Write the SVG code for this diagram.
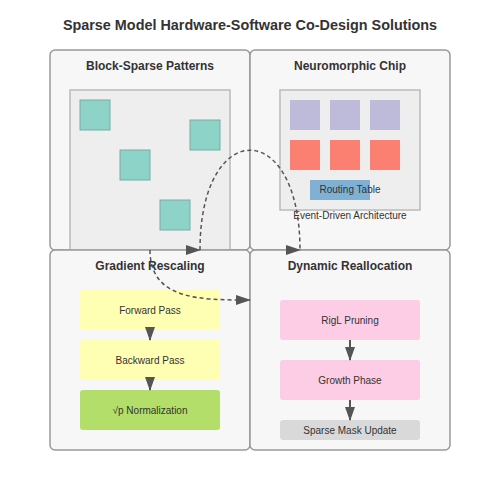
<svg xmlns="http://www.w3.org/2000/svg" width="500" height="500" viewBox="0 0 500 500">
<defs>
<style>
.panel{fill:#f7f7f7;stroke:#999;stroke-width:1.5}
.ptitle{font-family:"Liberation Sans",Arial,sans-serif;font-size:12px;font-weight:bold;fill:#333;text-anchor:middle}
.lbl{font-family:"Liberation Sans",Arial,sans-serif;font-size:10px;fill:#333;text-anchor:middle}
.inner{fill:#eee;stroke:#bbb;stroke-width:1.5}
.blk{fill:#8dd3c7;stroke:#7aaba2;stroke-width:1}
.pur{fill:#bebada}
.red{fill:#fb8072}
.dash{fill:none;stroke:#555;stroke-width:1.5;stroke-dasharray:4,3}
.solid{fill:none;stroke:#555;stroke-width:2}
</style>
<marker id="ar" markerUnits="userSpaceOnUse" markerWidth="15" markerHeight="10" refX="14" refY="5" orient="0">
<path d="M0,0 L15,5 L0,10 z" fill="#555"/>
</marker>
<marker id="ad" markerUnits="userSpaceOnUse" markerWidth="10" markerHeight="14" refX="5" refY="13" orient="0">
<path d="M0,0 L10,0 L5,14 z" fill="#555"/>
</marker>
</defs>
<rect width="500" height="500" fill="#fff"/>
<text x="250" y="30" font-family="'Liberation Sans',Arial,sans-serif" font-size="14.4" font-weight="bold" fill="#333" text-anchor="middle">Sparse Model Hardware-Software Co-Design Solutions</text>

<g id="block-sparse">
<rect class="panel" x="50" y="50" width="200" height="200" rx="5"/>
<text class="ptitle" x="150" y="70">Block-Sparse Patterns</text>
<rect class="inner" x="70" y="90" width="160" height="160"/>
<rect class="blk" x="80" y="100" width="30" height="30"/>
<rect class="blk" x="190" y="120" width="30" height="30"/>
<rect class="blk" x="120" y="150" width="30" height="30"/>
<rect class="blk" x="160" y="200" width="30" height="30"/>
</g>

<g id="neuromorphic">
<rect class="panel" x="250" y="50" width="200" height="200" rx="5"/>
<text class="ptitle" x="350" y="70">Neuromorphic Chip</text>
<rect class="inner" x="280" y="90" width="140" height="120"/>
<rect class="pur" x="290" y="100" width="30" height="30"/>
<rect class="pur" x="330" y="100" width="30" height="30"/>
<rect class="pur" x="370" y="100" width="30" height="30"/>
<rect class="red" x="290" y="140" width="30" height="30"/>
<rect class="red" x="330" y="140" width="30" height="30"/>
<rect class="red" x="370" y="140" width="30" height="30"/>
<rect x="310" y="180" width="60" height="20" fill="#80b1d3"/>
<text class="lbl" x="350" y="193">Routing Table</text>
<text class="lbl" x="350" y="219">Event-Driven Architecture</text>
</g>

<g id="gradient">
<rect class="panel" x="50" y="250" width="200" height="200" rx="5"/>
<text class="ptitle" x="150" y="270">Gradient Rescaling</text>
<rect x="80" y="290" width="140" height="40" rx="3" fill="#ffffb3"/>
<text class="lbl" x="150" y="314">Forward Pass</text>
<rect x="80" y="340" width="140" height="40" rx="3" fill="#ffffb3"/>
<text class="lbl" x="150" y="364">Backward Pass</text>
<rect x="80" y="390" width="140" height="40" rx="3" fill="#b3de69"/>
<text class="lbl" x="150" y="414">√p Normalization</text>
</g>

<g id="dynamic">
<rect class="panel" x="250" y="250" width="200" height="200" rx="5"/>
<text class="ptitle" x="350" y="270">Dynamic Reallocation</text>
<rect x="280" y="300" width="140" height="40" rx="3" fill="#fccde5"/>
<text class="lbl" x="350" y="324">RigL Pruning</text>
<rect x="280" y="360" width="140" height="40" rx="3" fill="#fccde5"/>
<text class="lbl" x="350" y="384">Growth Phase</text>
<rect x="280" y="420" width="140" height="20" rx="3" fill="#d9d9d9"/>
<text class="lbl" x="350" y="434">Sparse Mask Update</text>
</g>

<g id="connectors">
<path class="solid" d="M150,330 L150,340" marker-end="url(#ad)"/>
<path class="solid" d="M150,380 L150,390" marker-end="url(#ad)"/>
<path class="solid" d="M350,340 L350,360" marker-end="url(#ad)"/>
<path class="solid" d="M350,400 L350,420" marker-end="url(#ad)"/>
<path class="dash" d="M150,250 C150,300 200,300 250,300" marker-end="url(#ar)"/>
<path class="dash" d="M200,250 C200,117 300,117 300,250" marker-start="url(#ar)" marker-end="url(#ar)"/>
</g>
</svg>
